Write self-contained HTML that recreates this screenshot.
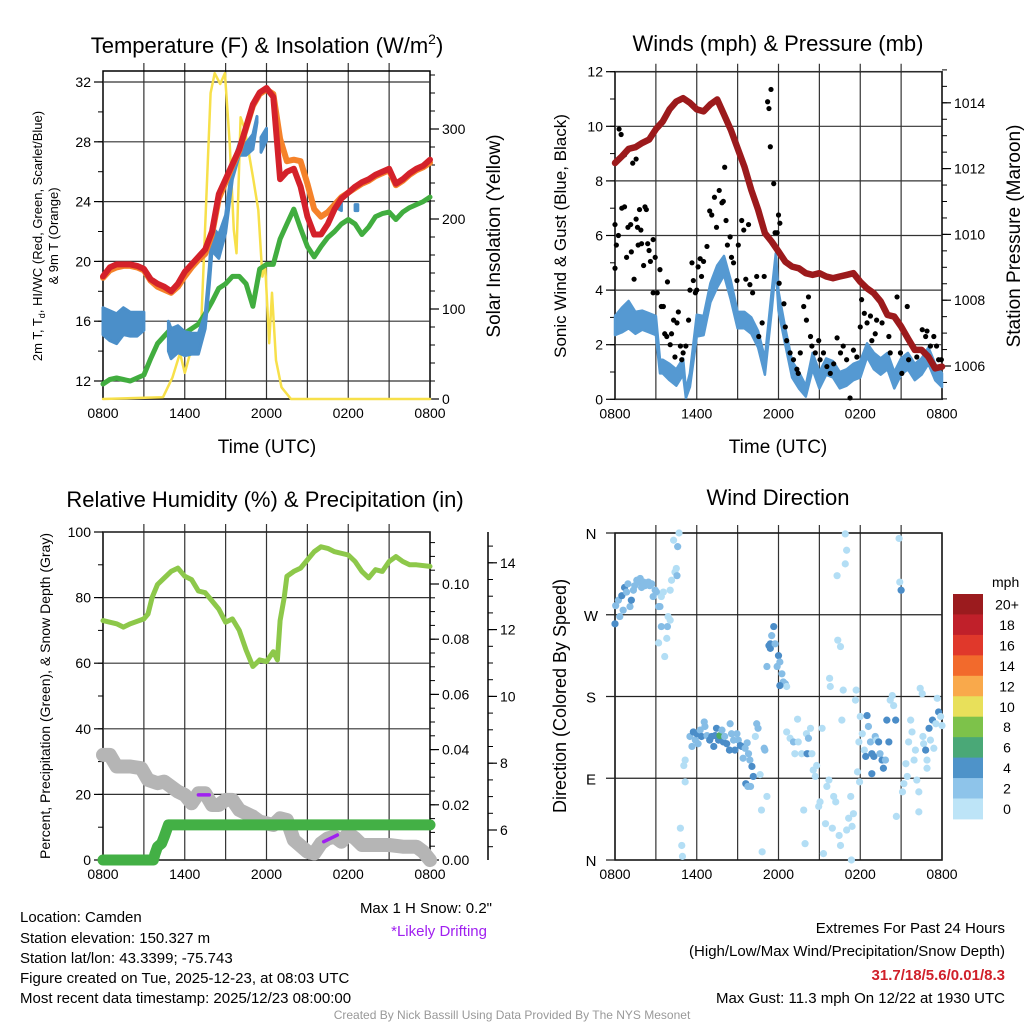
<!DOCTYPE html>
<html><head><meta charset="utf-8"><title>Mesonet Station Chart</title>
<style>
html,body{margin:0;padding:0;background:#fff;}
svg{display:block;font-family:"Liberation Sans",Arial,sans-serif;}
text{fill:#000;}
</style></head>
<body>
<svg id="chart" width="1024" height="1024" viewBox="0 0 1024 1024" xmlns="http://www.w3.org/2000/svg">
<rect x="0" y="0" width="1024" height="1024" fill="#fff"/>
<text x="267" y="53" font-size="22" text-anchor="middle">Temperature (F) &amp; Insolation (W/m<tspan font-size="14" dy="-9">2</tspan><tspan dy="9">)</tspan></text>
<text x="778" y="51" font-size="22" text-anchor="middle">Winds (mph) &amp; Pressure (mb)</text>
<text x="265" y="507" font-size="22" text-anchor="middle">Relative Humidity (%) &amp; Precipitation (in)</text>
<text x="778" y="505" font-size="22" text-anchor="middle">Wind Direction</text>
<text transform="translate(42,236) rotate(-90)" font-size="13" text-anchor="middle">2m T, T<tspan font-size="9" dy="3">d</tspan><tspan dy="-3">, HI/WC (Red, Green, Scarlet/Blue)</tspan></text>
<text transform="translate(58,236) rotate(-90)" font-size="13" text-anchor="middle">&amp; 9m T (Orange)</text>
<text transform="translate(500,236) rotate(-90)" font-size="19" text-anchor="middle">Solar Insolation (Yellow)</text>
<text x="267" y="453" font-size="19" text-anchor="middle">Time (UTC)</text>
<text transform="translate(566,236) rotate(-90)" font-size="17" text-anchor="middle">Sonic Wind &amp; Gust (Blue, Black)</text>
<text transform="translate(1020,236) rotate(-90)" font-size="19" text-anchor="middle">Station Pressure (Maroon)</text>
<text x="778" y="453" font-size="19" text-anchor="middle">Time (UTC)</text>
<text transform="translate(50,696) rotate(-90)" font-size="14" text-anchor="middle">Percent, Precipitation (Green), &amp; Snow Depth (Gray)</text>
<text transform="translate(566,696) rotate(-90)" font-size="18" text-anchor="middle">Direction (Colored By Speed)</text>
<text x="492" y="913" font-size="15" text-anchor="end" fill="#333">Max 1 H Snow: 0.2"</text>
<text x="487" y="936" font-size="15" text-anchor="end" fill="#a020f0" style="fill:#a020f0">*Likely Drifting</text>
<g font-size="15">
<text x="20" y="922">Location: Camden</text>
<text x="20" y="943">Station elevation: 150.327 m</text>
<text x="20" y="963">Station lat/lon: 43.3399; -75.743</text>
<text x="20" y="983">Figure created on Tue, 2025-12-23, at 08:03 UTC</text>
<text x="20" y="1003">Most recent data timestamp: 2025/12/23 08:00:00</text>
</g>
<g font-size="15" text-anchor="end">
<text x="1005" y="933">Extremes For Past 24 Hours</text>
<text x="1005" y="956">(High/Low/Max Wind/Precipitation/Snow Depth)</text>
<text x="1005" y="980" font-weight="bold" style="fill:#d0202a">31.7/18/5.6/0.01/8.3</text>
<text x="1005" y="1003">Max Gust: 11.3 mph On 12/22 at 1930 UTC</text>
</g>
<text x="512" y="1019" font-size="12" text-anchor="middle" style="fill:#999">Created By Nick Bassill Using Data Provided By The NYS Mesonet</text>
</svg>
<script>
// ===== Temperature panel data =====
const tempHours = [0,0.5,1,1.5,2,2.5,3,3.5,4,4.5,5,5.5,6,6.5,7,7.5,8,8.5,9,9.5,10,10.5,11,11.5,12,12.5,13,13.5,14,14.5,15,15.5,16,16.5,17,17.5,18,18.5,19,19.5,20,20.5,21,21.5,22,22.5,23,23.5,24];
const tempRed = [19.0,19.6,19.8,19.8,19.8,19.7,19.5,18.8,18.5,18.3,18.0,18.5,19.3,19.8,20.3,20.8,22.0,24.5,25.5,26.5,27.5,29.0,30.5,31.3,31.6,31.0,25.5,26.0,26.2,25.0,23.0,21.8,21.8,22.5,23.5,24.2,24.6,25.0,25.3,25.5,25.8,26.0,26.2,25.2,25.5,25.9,26.2,26.4,26.8];
const tempOrange = [18.9,19.4,19.6,19.7,19.7,19.6,19.4,18.7,18.3,18.1,17.9,18.3,19.0,19.6,20.1,20.5,21.8,24.2,25.3,26.4,27.4,28.9,30.4,31.2,31.5,31.2,28.2,26.7,26.8,26.7,25.2,23.5,23.0,23.3,23.8,24.3,24.6,24.9,25.2,25.4,25.7,25.9,26.1,25.1,25.4,25.8,26.1,26.3,26.6];
const tempGreen = [11.8,12.1,12.2,12.1,12.0,12.2,12.4,13.5,14.5,15.0,15.5,15.3,15.2,15.5,15.8,16.5,17.3,18.2,18.5,19.0,19.0,18.5,17.0,19.5,19.8,19.8,21.5,22.5,23.5,22.2,21.0,20.3,21.0,21.6,22.0,22.5,22.8,22.5,21.8,22.3,23.0,23.2,23.3,22.8,23.3,23.6,23.8,24.0,24.3];
const feelsHours = [0,0.5,1,1.5,2,2.5,3,null,4.8,5,5.5,6,6.5,7,7.5,7.8,8,8.5,9,9.5,10,10.5,11,11.3,null,11.6,12,null,17.3,17.5,null,18.5,18.7];
const feelsMid = [16,15.7,15.5,16,15.8,15.8,16,null,15,14.5,14.8,14.5,14.5,14.5,16,19,21.5,21,22.5,26,27.5,27.5,28,29.5,null,27.8,28.5,null,23.8,23.7,null,23.6,23.6];
const feelsSpread = [0.9,1.0,1.0,0.9,0.8,0.8,0.6,null,1.0,1.0,0.9,0.8,0.7,0.7,0.5,0.6,0.8,0.8,0.6,0.5,0.4,0.4,0.5,0.2,null,0.5,0.4,null,0.3,0.3,null,0.2,0.2];
const solarHours = [0,4.4,5.1,5.65,6.0,6.4,6.9,7.2,7.4,7.9,8.2,8.6,8.95,9.3,9.6,9.8,10.1,10.4,11.0,11.4,11.7,11.9,12.2,12.4,12.7,13.1,13.8,24];
const solarValues = [0,2,24,51,29,51,51,80,154,340,362,350,362,284,188,162,313,300,247,210,136,150,62,118,43,13,0,0];
const tempTicks = [12,16,20,24,28,32];
const solarTicks = [0,100,200,300];
const timeTickLabels = ["0800","1400","2000","0200","0800"];

// ===== Wind panel data =====
const windHours = [0,0.5,1,1.5,2,2.5,3,3.3,3.5,4,4.5,5,5.2,5.5,6,6.5,7,7.5,8,8.5,9,9.5,10,10.5,11,11.5,11.8,12,12.5,13,13.5,14,14.5,15,15.5,16,16.5,17,17.5,18,18.5,19,19.5,20,20.5,21,21.5,22,22.5,23,23.5,24];
const windSpeed = [2.7,2.9,3.1,2.8,2.9,2.8,2.7,1.2,1.2,1.0,0.8,1.2,0.2,0.7,2.7,2.7,3.9,4.5,4.9,4.0,2.9,2.9,2.7,2.2,1.2,3.6,5.1,3.6,2.3,1.1,0.7,0.3,1.4,0.7,1.2,1.1,0.7,0.8,1.0,1.1,1.8,1.4,1.2,1.4,0.7,1.2,1.4,1.0,1.2,1.6,1.0,0.7];
const windSpread = [0.35,0.45,0.5,0.4,0.35,0.35,0.35,0.25,0.25,0.3,0.3,0.3,0.15,0.25,0.4,0.35,0.35,0.4,0.35,0.35,0.3,0.3,0.3,0.3,0.3,0.35,0.25,0.35,0.3,0.3,0.3,0.2,0.3,0.3,0.3,0.3,0.3,0.3,0.3,0.3,0.25,0.3,0.3,0.3,0.3,0.3,0.3,0.3,0.3,0.3,0.3,0.25];
const gustHours = [0,0,0.1,0.3,0.45,0.25,0.5,0.7,0.7,0.85,0.95,1.15,1.2,1.3,1.4,1.55,1.55,1.65,1.7,1.8,1.9,1.95,2.1,2.2,2.3,2.4,2.5,2.6,2.8,2.95,2.8,3.1,3.3,3.4,3.55,3.65,3.8,3.85,4.05,4.15,4.3,4.4,4.55,4.65,4.8,4.9,5.0,5.2,5.4,5.5,5.65,5.75,5.9,6.0,6.1,6.25,6.35,6.5,6.75,6.95,7.1,7.3,7.45,7.65,7.85,7.95,8.05,8.15,8.25,8.45,8.55,8.7,8.95,9.05,9.3,9.45,9.6,9.8,9.9,10.1,10.4,10.55,10.8,10.95,11.2,11.3,11.45,11.4,11.65,11.65,11.75,11.9,12.0,12.1,12.05,12.4,12.5,12.6,12.85,13.1,13.35,13.45,13.6,13.85,14.05,14.2,14.35,14.45,14.7,14.95,15.05,15.3,15.55,15.8,16.05,16.3,16.55,16.75,17.0,17.25,17.5,17.75,18.0,18.1,18.3,18.5,18.75,18.85,19.1,19.2,19.45,19.6,19.85,20.1,20.2,20.7,20.95,21.05,21.45,21.55,21.8,22.15,22.55,22.8,22.9,23.15,23.4,23.6,23.75,23.95];
const gustSpeed = [6.4,4.8,5.65,9.9,9.7,6.0,7.0,7.05,8.95,5.2,6.3,6.4,5.4,8.65,4.4,8.8,6.6,6.3,5.65,6.95,6.2,5.7,4.9,7.05,6.95,5.7,5.45,5.05,5.85,5.2,3.9,3.9,4.75,3.4,3.4,2.4,2.3,4.3,2.0,2.4,2.9,1.55,2.8,3.2,1.95,1.45,1.7,1.95,2.9,4.0,5.0,4.35,3.9,4.0,4.85,5.15,4.5,5.05,5.6,6.9,6.75,7.4,6.3,7.65,7.2,7.25,8.5,6.55,5.65,5.95,5.2,5.0,4.35,5.65,6.55,6.2,4.4,6.4,4.2,3.9,4.5,2.3,2.8,4.5,10.9,10.65,11.35,9.25,7.9,5.7,6.1,6.1,6.75,6.45,4.25,3.5,2.65,2.15,1.7,1.45,1.1,0.95,1.7,3.4,2.9,3.75,2.3,1.95,1.7,2.15,1.45,1.7,1.2,0.95,1.3,2.25,1.7,1.95,1.45,0.05,1.8,1.55,2.65,3.65,3.15,2.8,3.05,2.15,2.4,2.9,3.65,2.8,3.25,2.3,1.7,3.75,1.7,0.95,3.4,1.45,1.95,1.55,2.55,2.3,2.5,1.95,2.3,1.95,1.45,1.45];
const pressHours = [0,0.5,1,1.5,2,2.5,3,3.5,4,4.5,5,5.5,6,6.5,7,7.5,8,8.5,9,9.5,10,10.5,11,11.5,12,12.5,13,13.5,14,14.5,15,15.5,16,16.5,17,17.5,18,18.5,19,19.5,20,20.5,21,21.5,22,22.5,23,23.5,24];
const pressValues = [1012.17,1012.37,1012.6,1012.65,1012.78,1012.88,1013.2,1013.43,1013.8,1014.04,1014.14,1014.0,1013.8,1013.74,1013.95,1014.1,1013.64,1013.18,1012.62,1012.06,1011.35,1010.75,1010.04,1009.78,1009.48,1009.17,1009.02,1008.97,1008.82,1008.77,1008.82,1008.72,1008.67,1008.72,1008.77,1008.82,1008.56,1008.36,1008.21,1007.96,1007.55,1007.5,1007.2,1006.84,1006.49,1006.49,1006.28,1005.93,1005.98];
const windTicks = [0,2,4,6,8,10,12];
const pressTicks = [1006,1008,1010,1012,1014];

// ===== Humidity panel data =====
const rhHours = [0,1,1.5,2,3,3.3,3.6,4,4.5,5,5.5,6,6.5,7,7.5,8,8.5,9,9.5,10,10.5,11,11.5,12,12.5,12.8,13,13.3,13.5,14,14.5,15,15.5,16,16.5,17,18,18.5,19,19.5,20,20.5,21,21.5,22,22.5,23,24];
const rhValues = [73,72,71,72,73.5,75,80,84,86,88,89,86.5,85.5,82,81.5,79,76.5,72.5,73.5,70,64,59,61,60.5,63.5,61,73,80,86.5,88,89,91.5,94,95.5,95,94,93,91,88,86,88.5,88,91,92.5,91,90,90,89.5];
const precipHours = [0,3.7,3.8,4,4.3,4.5,4.8,24];
const precipValues = [0,0,0.002,0.0048,0.006,0.0085,0.0127,0.0127];
const snowHours = [0,0.5,1,2,2.8,3.3,4,4.5,5,5.5,6,6.5,7,7.5,8,8.5,9,9.5,10,11,11.5,12,12.5,13,13.5,14,15,15.5,16,16.5,17,17.5,18,18.5,19,20,21,22,23,23.5,24];
const snowDepth = [8.25,8.25,7.9,7.9,7.85,7.5,7.4,7.45,7.3,7.15,7.05,6.8,7.1,7.1,6.75,6.75,6.9,6.9,6.6,6.4,6.25,6.2,6.15,6.35,6.3,5.7,5.35,5.3,5.6,5.75,5.8,5.65,5.9,5.75,5.55,5.55,5.55,5.5,5.5,5.35,5.1];
const driftStart = [7.0,16.2];
const driftEnd = [7.8,17.2];
const driftSnowStart = [7.05,5.65];
const driftSnowEnd = [7.05,5.85];
const rhTicks = [0,20,40,60,80,100];
const precipTicks = [0,0.02,0.04,0.06,0.08,0.10];
const snowTicks = [6,8,10,12,14];

// ===== Wind direction panel data =====
const dirHours = [0,0.05,0.25,0.35,0.5,0.6,0.7,0.85,0.95,1.1,1.2,1.35,1.45,1.6,1.7,1.85,1.95,2.1,2.2,2.35,2.45,2.55,2.7,2.8,2.95,3.05,3.2,3.3,3.4,3.55,3.4,3.85,3.9,4.05,3.8,3.65,3.2,4.05,4.15,4.4,4.55,4.5,4.3,4.6,4.7,5.15,5.05,5.15,4.8,4.9,4.95,5.5,5.65,5.75,5.9,6.0,6.1,6.25,6.35,6.55,6.6,6.75,6.95,7.1,7.25,7.35,7.45,7.6,7.7,7.85,7.95,8.05,8.2,8.4,8.45,8.55,8.7,8.8,8.95,9.05,9.2,9.3,9.4,9.55,9.7,9.8,9.9,10.05,10.15,9.6,9.75,9.95,10.3,10.4,10.5,10.65,10.95,11.0,11.15,10.75,10.8,11.65,11.5,11.4,11.3,11.4,11.75,11.9,12.0,12.1,12.25,12.35,12.5,12.6,12.1,11.15,12.6,12.85,13.1,13.2,13.4,13.45,13.7,13.85,13.95,14.05,14.2,14.35,14.2,14.1,14.45,14.55,14.7,14.8,14.95,15.05,15.2,15.3,15.45,15.55,15.7,15.75,15.8,15.95,16.05,16.2,16.3,16.45,16.55,16.65,16.75,16.55,16.35,16.9,17.0,16.9,17.0,17.15,17.3,17.35,17.4,17.5,17.65,17.7,17.8,17.95,17.9,18.0,18.15,18.3,18.4,18.5,18.6,18.75,18.85,18.85,19.0,19.1,19.2,19.35,19.45,19.6,19.7,19.85,19.95,20.1,20.2,20.35,20.45,20.6,20.65,20.85,20.9,21.0,21.1,21.2,21.35,21.45,21.55,21.7,21.8,21.95,22.05,22.15,22.3,22.3,22.4,22.55,22.6,22.65,22.8,22.9,22.9,23.05,23.15,23.3,23.4,23.55,23.65,23.75,23.9,24.0];
const dirDegrees = [260,280,286,268,291,275,300,295,304,279,286,297,302,308,306,310,300,306,302,304,306,302,304,290,297,295,279,279,290,295,257,257,268,264,244,224,239,297,308,317,313,321,352,345,360,110,104,86,35,16,4,136,125,141,132,139,128,143,136,152,147,137,132,136,125,137,145,132,137,143,130,136,128,121,150,139,132,121,139,132,126,125,112,123,129,117,110,103,92,84,81,81,136,150,145,94,123,121,70,55,9,257,247,238,236,233,238,213,225,218,205,196,194,191,192,213,141,134,130,117,155,130,117,55,18,139,134,145,117,117,117,99,92,104,59,64,145,7,40,81,88,200,191,35,70,64,313,27,16,154,187,235,242,359,341,326,33,46,70,0,37,51,176,187,97,86,130,158,139,121,114,159,147,130,117,95,114,136,132,130,117,110,101,110,154,130,176,181,170,154,48,354,306,297,75,84,106,92,130,154,141,110,121,88,75,53,189,183,136,128,121,110,101,145,132,154,123,150,178,163,158,148];
const dirSpeedBin = [2,1,1,1,2,1,2,1,1,1,2,1,1,1,1,1,1,1,1,1,1,1,1,1,1,1,1,1,0,0,1,1,0,0,0,0,0,0,0,0,1,0,0,1,0,0,0,0,0,0,0,1,1,2,1,2,1,1,2,1,1,1,2,2,2,2,2,2,3,1,2,1,2,2,1,1,1,2,1,1,2,2,1,1,1,1,1,2,2,2,1,1,0,1,1,0,1,1,0,0,0,2,1,2,2,2,1,1,2,1,1,1,1,0,2,1,0,0,1,0,0,0,0,0,0,0,1,0,0,2,0,0,0,0,0,0,0,0,0,0,0,0,0,0,0,0,0,0,0,0,0,0,0,0,0,0,0,0,0,0,0,0,0,0,0,0,0,0,0,0,2,2,1,1,2,2,2,1,0,2,1,2,2,1,2,2,0,0,0,2,0,0,0,2,0,0,0,0,0,0,0,0,0,0,0,0,0,0,0,0,2,0,0,2,0,2,0,0,0,2,0,0,0,0,0];
const dirLabels = ["N","E","S","W","N"];
const dirTickDegrees = [0,90,180,270,360];
const colorbarLabels = ["20+","18","16","14","12","10","8","6","4","2","0"];
const colorbarColors = ["#9b1b1e","#c0202a","#e0382b","#f26a2c","#f9a94b","#e8e05a","#7dc24a","#4aa877","#4e93c9","#8ec4ea","#bde4f7"];
const speedBinColors = ["#b3def5","#86bde6","#4b8dc8","#4aab63"];

// ===== rendering =====
const NS = "http://www.w3.org/2000/svg";
const svg = document.getElementById('chart');
function mk(tag, attrs, parent) {
  const e = document.createElementNS(NS, tag);
  for (const k in attrs) e.setAttribute(k, attrs[k]);
  (parent || svg).appendChild(e);
  return e;
}
function pathD(ts, vs, xf, yf) {
  let d = '', pen = false;
  for (let i = 0; i < ts.length; i++) {
    if (ts[i] === null || vs[i] === null) { pen = false; continue; }
    d += (pen ? 'L' : 'M') + xf(ts[i]).toFixed(1) + ',' + yf(vs[i]).toFixed(1);
    pen = true;
  }
  return d;
}
function bandD(ts, mid, spr, xf, yf) {
  let d = '', seg = [];
  const flush = () => {
    if (seg.length > 1) {
      let s = '';
      seg.forEach((i, k) => { s += (k ? 'L' : 'M') + xf(ts[i]).toFixed(1) + ',' + yf(mid[i] + spr[i]).toFixed(1); });
      for (let k = seg.length - 1; k >= 0; k--) { const i = seg[k]; s += 'L' + xf(ts[i]).toFixed(1) + ',' + yf(mid[i] - spr[i]).toFixed(1); }
      d += s + 'Z';
    }
    seg = [];
  };
  for (let i = 0; i < ts.length; i++) { if (ts[i] === null) flush(); else seg.push(i); }
  flush();
  return d;
}
function frame(name, x0, x1, yT, yB) {
  const g = mk('g', {});
  
  
  for (let h = 3; h < 24; h += 3) {
    const x = x0 + h * (x1 - x0) / 24;
    const l = mk('line', {x1: x, x2: x, y1: yT - 8, y2: yB, stroke: '#333', 'stroke-width': 1.2}, g);
    
    
  }
  const r = mk('rect', {x: x0, y: yT, width: x1 - x0, height: yB - yT, fill: 'none', stroke: '#000', 'stroke-width': 1.5}, g);
  
  
  timeTickLabels.forEach((lab, i) => {
    const x = x0 + i * 6 * (x1 - x0) / 24;
    const t = mk('text', {x: x, y: yB + 19, 'font-size': 14, 'text-anchor': 'middle'}, g);
    t.textContent = lab;
    
    
  });
  return g;
}
function yAxis(name, g, ticks, minorStep, yf, xAxis, side, fmt, lo, hi, hgrid) {
  const dir = side === 'left' ? -1 : 1;
  for (let v = lo; v <= hi + 1e-9; v += minorStep) {
    const y = yf(v);
    const l = mk('line', {x1: xAxis, x2: xAxis + dir * 5, y1: y, y2: y, stroke: '#000', 'stroke-width': 1}, g);
    
    
  }
  ticks.forEach(v => {
    const y = yf(v);
    if (hgrid) {
      const gl = mk('line', {x1: hgrid[0], x2: hgrid[1], y1: y, y2: y, stroke: '#333', 'stroke-width': 1.2}, g);
      
      
    }
    const l = mk('line', {x1: xAxis, x2: xAxis + dir * 9, y1: y, y2: y, stroke: '#000', 'stroke-width': 1.2}, g);
    
    
    const t = mk('text', {x: xAxis + dir * 12, y: y + 5, 'font-size': 14, 'text-anchor': side === 'left' ? 'end' : 'start'}, g);
    t.textContent = fmt(v);
    
    
  });
}

// ---- Panel 1: temperature ----
(function () {
  const x0 = 103, x1 = 430, yT = 71, yB = 399;
  const xs = t => x0 + t * (x1 - x0) / 24;
  const yT_ = v => 381 - (v - 12) * 14.95;
  const yS = v => 399 - v * 0.9;
  const g = frame('temperature', x0, x1, yT, yB);
  yAxis('temperature-left', g, tempTicks, 2, yT_, x0, 'left', v => String(v), 12, 32, [x0, x1]);
  yAxis('solar-right', g, solarTicks, 20, yS, x1, 'right', v => String(v), 0, 360, null);
  const series = mk('g', {'stroke-linejoin': 'round', 'stroke-linecap': 'round', fill: 'none'});
  
  
  const sol = mk('path', {d: pathD(solarHours, solarValues, xs, yS), stroke: '#f7e04a', 'stroke-width': 2.5}, series);
  
  
  const gr = mk('path', {d: pathD(tempHours, tempGreen, xs, yT_), stroke: '#41ad3f', 'stroke-width': 5}, series);
  
  
  const band = mk('path', {d: bandD(feelsHours, feelsMid, feelsSpread, xs, yT_), fill: '#4b8fc9', stroke: '#4b8fc9', 'stroke-width': 3}, series);
  
  
  const or = mk('path', {d: pathD(tempHours, tempOrange, xs, yT_), stroke: '#f5822a', 'stroke-width': 6}, series);
  
  
  const rd = mk('path', {d: pathD(tempHours, tempRed, xs, yT_), stroke: '#d4212a', 'stroke-width': 6}, series);
  
  
})();

// ---- Panel 2: winds ----
(function () {
  const x0 = 615, x1 = 942, yT = 71.7, yB = 399.3;
  const xs = t => x0 + t * (x1 - x0) / 24;
  const yW = v => 399.3 - v * 27.3;
  const yP = v => 366 - (v - 1006) * 32.9;
  const g = frame('wind', x0, x1, yT, yB);
  yAxis('wind-left', g, windTicks, 1, yW, x0, 'left', v => String(v), 0, 12, [x0, x1]);
  yAxis('pressure-right', g, pressTicks, 0.5, yP, x1, 'right', v => String(v), 1005, 1015, null);
  const series = mk('g', {'stroke-linejoin': 'round', 'stroke-linecap': 'round', fill: 'none'});
  
  
  const band = mk('path', {d: bandD(windHours, windSpeed, windSpread, xs, yW), fill: '#5599d2', stroke: '#5599d2', 'stroke-width': 2.5}, series);
  
  
  const gg = mk('g', {fill: '#000'}, series);
  
  
  gustHours.forEach((t, i) => {
    const c = mk('circle', {cx: xs(t), cy: yW(gustSpeed[i]), r: 2.6}, gg);
    
    
  });
  const pr = mk('path', {d: pathD(pressHours, pressValues, xs, yP), stroke: '#9c1a1c', 'stroke-width': 6.5}, series);
  
  
})();

// ---- Panel 3: humidity ----
(function () {
  const x0 = 103, x1 = 430, yT = 532, yB = 860;
  const xs = t => x0 + t * (x1 - x0) / 24;
  const yR = v => 860 - v * 3.28;
  const yPr = v => 860 - v * 2760;
  const ySn = v => 830 - (v - 6) * 33.4;
  const g = frame('humidity', x0, x1, yT, yB);
  yAxis('humidity-left', g, rhTicks, 10, yR, x0, 'left', v => String(v), 0, 100, [x0, x1]);
  yAxis('precip-right', g, precipTicks, 0.005, yPr, x1, 'right', v => v.toFixed(2), 0, 0.118, null);
  const sx = 488;
  const al = mk('line', {x1: sx, x2: sx, y1: 532, y2: 860, stroke: '#000', 'stroke-width': 1.5}, g);
  
  
  yAxis('snow-right', g, snowTicks, 0.5, ySn, sx, 'right', v => String(v), 5.5, 14.5, null);
  const series = mk('g', {'stroke-linejoin': 'round', 'stroke-linecap': 'round', fill: 'none'});
  
  
  const sn = mk('path', {d: pathD(snowHours, snowDepth, xs, ySn), stroke: '#b5b5b5', 'stroke-width': 14}, series);
  
  
  driftStart.forEach((t, i) => {
    const d = mk('line', {x1: xs(t), x2: xs(driftEnd[i]), y1: ySn(driftSnowStart[i]), y2: ySn(driftSnowEnd[i]), stroke: '#a020f0', 'stroke-width': 3.5}, series);
    
    
  });
  const pc = mk('path', {d: pathD(precipHours, precipValues, xs, yPr), stroke: '#43b045', 'stroke-width': 11}, series);
  
  
  const rh = mk('path', {d: pathD(rhHours, rhValues, xs, yR), stroke: '#8dc84a', 'stroke-width': 5}, series);
  
  
})();

// ---- Panel 4: wind direction ----
(function () {
  const x0 = 615, x1 = 942, yT = 533, yB = 860;
  const xs = t => x0 + t * (x1 - x0) / 24;
  const yD = v => 860 - v * (860 - 533) / 360;
  const g = frame('direction', x0, x1, yT, yB);
  dirTickDegrees.forEach((d, i) => {
    const y = yD(d);
    const gl = mk('line', {x1: x0 - 9, x2: x1, y1: y, y2: y, stroke: '#222', 'stroke-width': 1.2}, g);
    
    
    const t = mk('text', {x: 591, y: y + 6, 'font-size': 15, 'text-anchor': 'middle'}, g);
    t.textContent = dirLabels[i];
    
    
  });
  const pts = mk('g', {});
  
  
  dirHours.forEach((t, i) => {
    const c = mk('circle', {cx: xs(t), cy: yD(dirDegrees[i]), r: 3.6, fill: speedBinColors[dirSpeedBin[i]]}, pts);
    
    
  });
  const cb = mk('g', {});
  
  
  const ct = mk('text', {x: 992, y: 587, 'font-size': 14}, cb);
  ct.textContent = 'mph';
  
  
  colorbarLabels.forEach((lab, i) => {
    const y = 594 + i * 20.45;
    const r = mk('rect', {x: 953, y: y, width: 30, height: 20.9, fill: colorbarColors[i]}, cb);
    
    
    const t = mk('text', {x: 1007, y: y + 15.5, 'font-size': 14, 'text-anchor': 'middle'}, cb);
    t.textContent = lab;
    
    
  });
})();
</script>
</body></html>
